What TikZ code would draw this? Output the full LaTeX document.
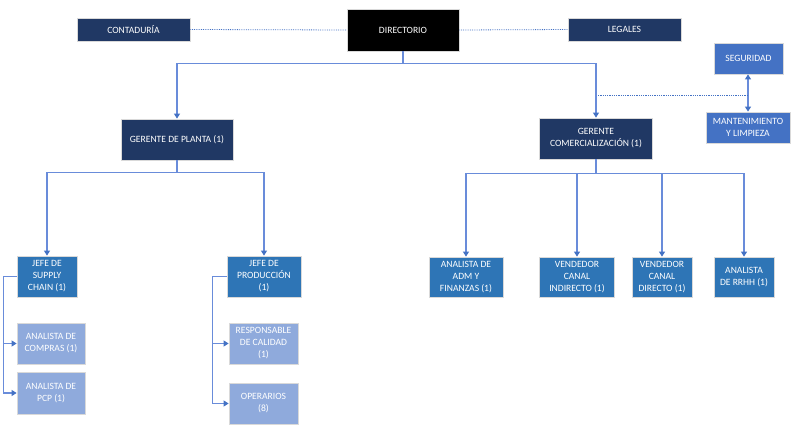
\documentclass[tikz,border=0pt]{standalone}
\usepackage{fontspec}
\setmainfont{Carlito}
\usetikzlibrary{arrows.meta}
\definecolor{navy}{HTML}{203864}
\definecolor{midblue}{HTML}{2E75B6}
\definecolor{lightblue}{HTML}{8FAADC}
\definecolor{accent}{HTML}{4472C4}
\definecolor{linec}{RGB}{105,140,218}
\tikzset{
  box/.style={draw=black!15, line width=0.8pt, text=white, align=center, inner sep=1pt,
    font=\fontsize{9.6}{12}\selectfont},
  navybox/.style={box, fill=navy},
  blackbox/.style={box, fill=black},
  midbox/.style={box, fill=midblue},
  lightbox/.style={box, fill=lightblue},
  accbox/.style={box, fill=accent},
  conn/.style={draw=linec, line width=1.1pt, arrows={-{Triangle[color=accent,width=6pt,length=5pt]}}},
  dbl/.style={draw=linec, line width=1.1pt, {Triangle[color=accent,width=6pt,length=5pt]}-{Triangle[color=accent,width=6pt,length=5pt]}},
  dots/.style={draw=accent, line width=0.8pt, densely dotted}
}
\begin{document}
\begin{tikzpicture}[x=1pt,y=-1pt]
\useasboundingbox (0,0) rectangle (800,435);
% top row
\node[navybox, minimum width=113pt, minimum height=23pt] (contaduria) at (133.5,29.5) {CONTADURÍA};
\node[blackbox, minimum width=112pt, minimum height=42pt] (directorio) at (403,30) {DIRECTORIO};
\node[navybox, minimum width=113pt, minimum height=23pt] (legales) at (624.5,29.5) {LEGALES};
\node[accbox, minimum width=69pt, minimum height=31pt] (seguridad) at (748.5,58.5) {SEGURIDAD};
\node[accbox, minimum width=84pt, minimum height=31pt] (mant) at (748,127.5) {MANTENIMIENTO\\Y LIMPIEZA};
% managers
\node[navybox, minimum width=112pt, minimum height=41pt] (gplanta) at (177,139.5) {GERENTE DE PLANTA (1)};
\node[navybox, minimum width=113pt, minimum height=41pt] (gcom) at (596,138.5) {GERENTE\\COMERCIALIZACIÓN (1)};
% plant side
\node[midbox, minimum width=60pt, minimum height=41pt] (jsc) at (47,276.5) {JEFE DE\\SUPPLY\\CHAIN (1)};
\node[midbox, minimum width=74pt, minimum height=41pt] (jprod) at (264,276.5) {JEFE DE\\PRODUCCIÓN\\(1)};
\node[lightbox, minimum width=68pt, minimum height=41pt] (acompras) at (51,343.5) {ANALISTA DE\\COMPRAS (1)};
\node[lightbox, minimum width=68pt, minimum height=42pt] (apcp) at (51,393) {ANALISTA DE\\PCP (1)};
\node[lightbox, minimum width=69pt, minimum height=41pt] (rcal) at (263.5,343.5) {RESPONSABLE\\DE CALIDAD\\(1)};
\node[lightbox, minimum width=69pt, minimum height=41pt] (oper) at (263.5,403.5) {OPERARIOS\\(8)};
% commercial side
\node[midbox, minimum width=74pt, minimum height=40pt] (aadm) at (466,277) {ANALISTA DE\\ADM Y\\FINANZAS (1)};
\node[midbox, minimum width=75pt, minimum height=40pt] (vci) at (577,277) {VENDEDOR\\CANAL\\INDIRECTO (1)};
\node[midbox, minimum width=60pt, minimum height=40pt] (vcd) at (662,277) {VENDEDOR\\CANAL\\DIRECTO (1)};
\node[midbox, minimum width=60pt, minimum height=40pt] (arrhh) at (744,277) {ANALISTA\\DE RRHH (1)};
% dotted staff links
\draw[dots] (contaduria.east) -- (directorio.west);
\draw[dots] (directorio.east) -- (legales.west);
\coordinate (sm) at (748,95);
\coordinate (gm) at (596,95);
\draw[dbl] (seguridad.south -| sm) -- (mant.north -| sm);
\draw[dots] (sm) -- (gm);
% hierarchy
\draw[conn] (directorio.south) -- ++(0,12) -| (gplanta.north);
\draw[conn] (directorio.south) -- ++(0,12) -| (gcom.north);
\draw[conn] (gplanta.south) -- ++(0,12) -| (jsc.north);
\draw[conn] (gplanta.south) -- ++(0,12) -| (jprod.north);
\draw[conn] (gcom.south) -- ++(0,14) -| (aadm.north);
\draw[conn] (gcom.south) -- ++(0,14) -| (vci.north);
\draw[conn] (gcom.south) -- ++(0,14) -| (vcd.north);
\draw[conn] (gcom.south) -- ++(0,14) -| (arrhh.north);
\draw[conn] (jsc.west) -- ++(-13,0) |- (acompras.west);
\draw[conn] (jsc.west) -- ++(-13,0) |- (apcp.west);
\draw[conn] (jprod.west) -- ++(-14,0) |- (rcal.west);
\draw[conn] (jprod.west) -- ++(-14,0) |- (oper.west);
\end{tikzpicture}
\end{document}
